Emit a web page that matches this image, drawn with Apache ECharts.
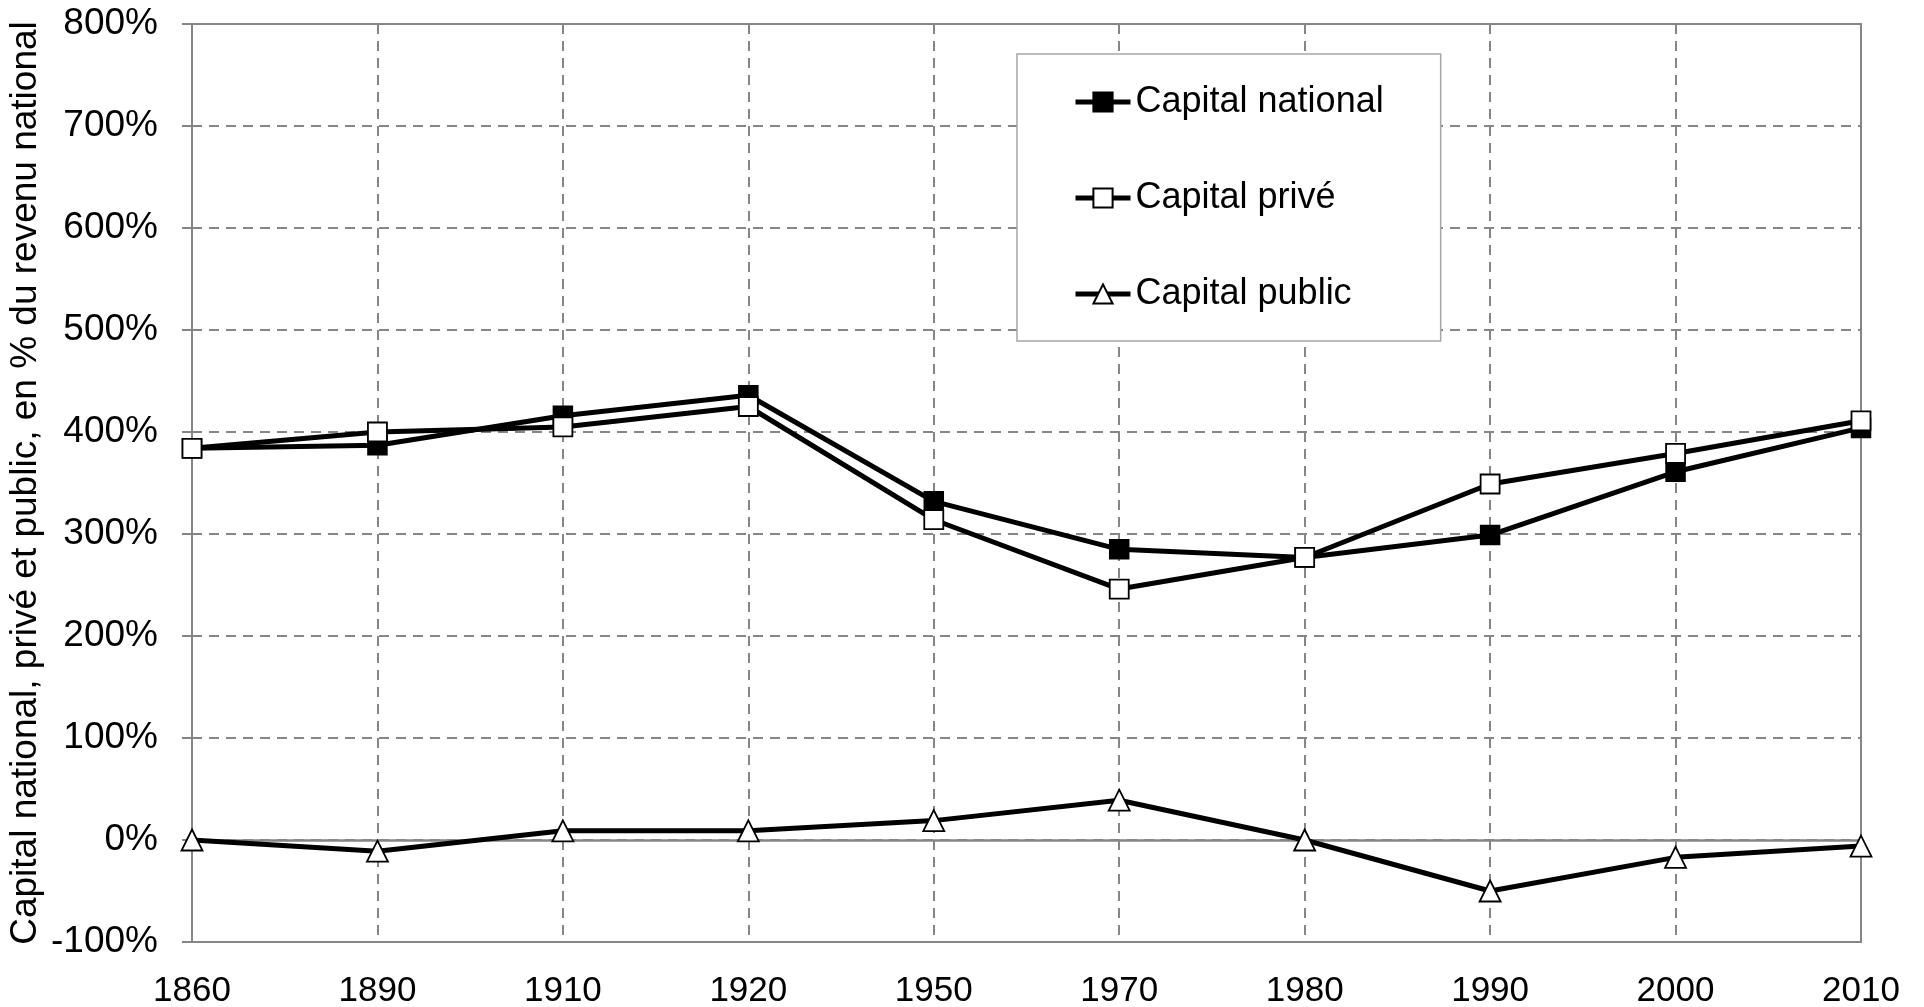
<!DOCTYPE html>
<html>
<head>
<meta charset="utf-8">
<script src="https://cdn.jsdelivr.net/npm/echarts@6/dist/echarts.min.js"></script>
<style>
  html, body { margin: 0; padding: 0; background: #fff; }
  #chart { width: 1924px; height: 1007px; }
</style>
</head>
<body>
<div id="chart"></div>
<script>
// years (x categories)
const years = ['1860', '1890', '1910', '1920', '1950', '1970', '1980', '1990', '2000', '2010']

// values in % of national income
const capitalNational = [384, 387, 416, 436, 332, 285, 277, 299, 361, 404]
const capitalPrive = [384, 400, 405, 425, 314, 246, 277, 349, 379, 411]
const capitalPublic = [0, -11, 9, 9, 19, 39, 0, -50, -17, -6]

const font = 'Liberation Sans, Arial, sans-serif'
const gridGray = '#868686'

const chart = echarts.init(document.getElementById('chart'))

const lineStyle = { color: '#000', width: 5 }

const option = {
  animation: false,
  textStyle: { fontFamily: font },
  grid: {
    left: 192,
    right: 63,
    top: 24,
    bottom: 65,
    outerBoundsMode: 'none',
    containLabel: false,
    show: true,
    borderColor: gridGray,
    borderWidth: 2
  },
  legend: {
    orient: 'vertical',
    left: 1017,
    top: 54,
    width: 300,
    padding: [26, 57, 25, 56],
    backgroundColor: '#fff',
    borderColor: '#a6a6a6',
    borderWidth: 1.5,
    itemWidth: 55,
    itemHeight: 24,
    itemGap: 52,
    lineStyle: { width: 5 },
    textStyle: {
      fontFamily: font,
      fontSize: 36,
      lineHeight: 44,
      color: '#000'
    },
    data: ['Capital national', 'Capital privé', 'Capital public']
  },
  xAxis: {
    type: 'category',
    data: years,
    boundaryGap: false,
    axisLine: { show: false },
    axisTick: { show: false },
    axisLabel: {
      color: '#000',
      fontSize: 35,
      margin: 32,
      interval: 0
    },
    splitLine: {
      show: true,
      interval: 0,
      lineStyle: { color: gridGray, width: 2, type: [10, 7] }
    }
  },
  yAxis: {
    type: 'value',
    min: -100,
    max: 800,
    interval: 100,
    name: 'Capital national, privé et public, en % du revenu national',
    nameLocation: 'middle',
    nameGap: 148,
    nameMoveOverlap: false,
    nameTextStyle: { color: '#000', fontSize: 37, fontFamily: font },
    axisLine: { show: true, lineStyle: { color: gridGray, width: 2 } },
    axisTick: { show: true, length: 10, lineStyle: { color: gridGray, width: 2 } },
    axisLabel: {
      color: '#000',
      fontSize: 37,
      margin: 34,
      formatter: '{value}%'
    },
    splitLine: {
      show: true,
      lineStyle: { color: gridGray, width: 2, type: [10, 7] }
    }
  },
  series: [
    {
      name: 'Capital national',
      type: 'line',
      data: capitalNational,
      symbol: 'rect',
      symbolSize: 19,
      lineStyle: lineStyle,
      itemStyle: { color: '#000', borderColor: '#000', borderWidth: 1.5 },
      z: 3
    },
    {
      name: 'Capital privé',
      type: 'line',
      data: capitalPrive,
      symbol: 'rect',
      symbolSize: 19,
      lineStyle: lineStyle,
      itemStyle: { color: '#fff', borderColor: '#000', borderWidth: 1.8 },
      z: 4
    },
    {
      name: 'Capital public',
      type: 'line',
      data: capitalPublic,
      symbol: 'triangle',
      symbolSize: 21,
      lineStyle: lineStyle,
      itemStyle: { color: '#fff', borderColor: '#000', borderWidth: 1.8 },
      z: 5,
      markLine: {
        silent: true,
        symbol: 'none',
        label: { show: false },
        lineStyle: { color: gridGray, width: 2.5, type: 'solid' },
        data: [{ yAxis: 0 }],
        z: 1
      }
    }
  ]
}

chart.setOption(option)
</script>
</body>
</html>
